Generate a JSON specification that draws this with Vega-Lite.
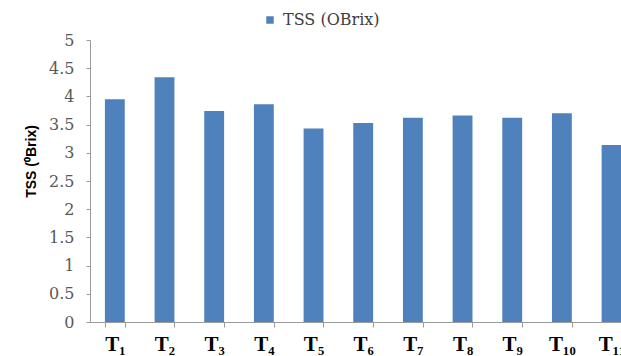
{
  "$schema": "https://vega.github.io/schema/vega-lite/v6.json",
  "width": 531,
  "height": 282,
  "autosize": {"type": "none"},
  "padding": {"left": 90, "top": 40, "right": 0, "bottom": 34},
  "background": "white",
  "data": {
    "values": [
      {"treatment": "T₁", "tss": 3.95, "series": "TSS (OBrix)"},
      {"treatment": "T₂", "tss": 4.34, "series": "TSS (OBrix)"},
      {"treatment": "T₃", "tss": 3.74, "series": "TSS (OBrix)"},
      {"treatment": "T₄", "tss": 3.86, "series": "TSS (OBrix)"},
      {"treatment": "T₅", "tss": 3.43, "series": "TSS (OBrix)"},
      {"treatment": "T₆", "tss": 3.53, "series": "TSS (OBrix)"},
      {"treatment": "T₇", "tss": 3.62, "series": "TSS (OBrix)"},
      {"treatment": "T₈", "tss": 3.66, "series": "TSS (OBrix)"},
      {"treatment": "T₉", "tss": 3.62, "series": "TSS (OBrix)"},
      {"treatment": "T₁₀", "tss": 3.70, "series": "TSS (OBrix)"},
      {"treatment": "T₁₁", "tss": 3.14, "series": "TSS (OBrix)"}
    ]
  },
  "mark": {"type": "bar"},
  "encoding": {
    "x": {
      "field": "treatment",
      "type": "nominal",
      "sort": null,
      "scale": {"range": [0, 546.4], "paddingInner": 0.6, "paddingOuter": 0.3},
      "axis": {
        "title": null,
        "labelAngle": 0,
        "labelFont": "Liberation Serif",
        "labelFontWeight": "bold",
        "labelFontSize": 21,
        "labelColor": "#000000",
        "labelPadding": 6,
        "tickBand": "extent",
        "tickSize": 5,
        "tickColor": "#9a9a9a",
        "domainColor": "#9a9a9a",
        "grid": false
      }
    },
    "y": {
      "field": "tss",
      "type": "quantitative",
      "scale": {"domain": [0, 5]},
      "axis": {
        "title": "TSS (⁰Brix)",
        "titleFont": "Liberation Sans",
        "titleFontWeight": "bold",
        "titleFontSize": 14,
        "titleColor": "#000000",
        "titleX": -52,
        "titleY": 121,
        "titleAlign": "center",
        "titleBaseline": "bottom",
        "titleAngle": 270,
        "values": [0, 0.5, 1, 1.5, 2, 2.5, 3, 3.5, 4, 4.5, 5],
        "format": "~g",
        "labelFont": "DejaVu Serif",
        "labelFontSize": 16,
        "labelColor": "#595959",
        "labelPadding": 12,
        "tickSize": 4,
        "tickColor": "#9a9a9a",
        "domainColor": "#9a9a9a",
        "grid": false
      }
    },
    "color": {
      "field": "series",
      "type": "nominal",
      "scale": {"range": ["#4F81BD"]},
      "legend": {
        "title": null,
        "orient": "none",
        "legendX": 172,
        "legendY": -28,
        "symbolType": "square",
        "symbolSize": 56,
        "symbolStrokeWidth": 0,
        "labelFont": "DejaVu Serif",
        "labelFontSize": 16,
        "labelColor": "#404040",
        "labelOffset": 5
      }
    }
  },
  "config": {"view": {"stroke": null}}
}
